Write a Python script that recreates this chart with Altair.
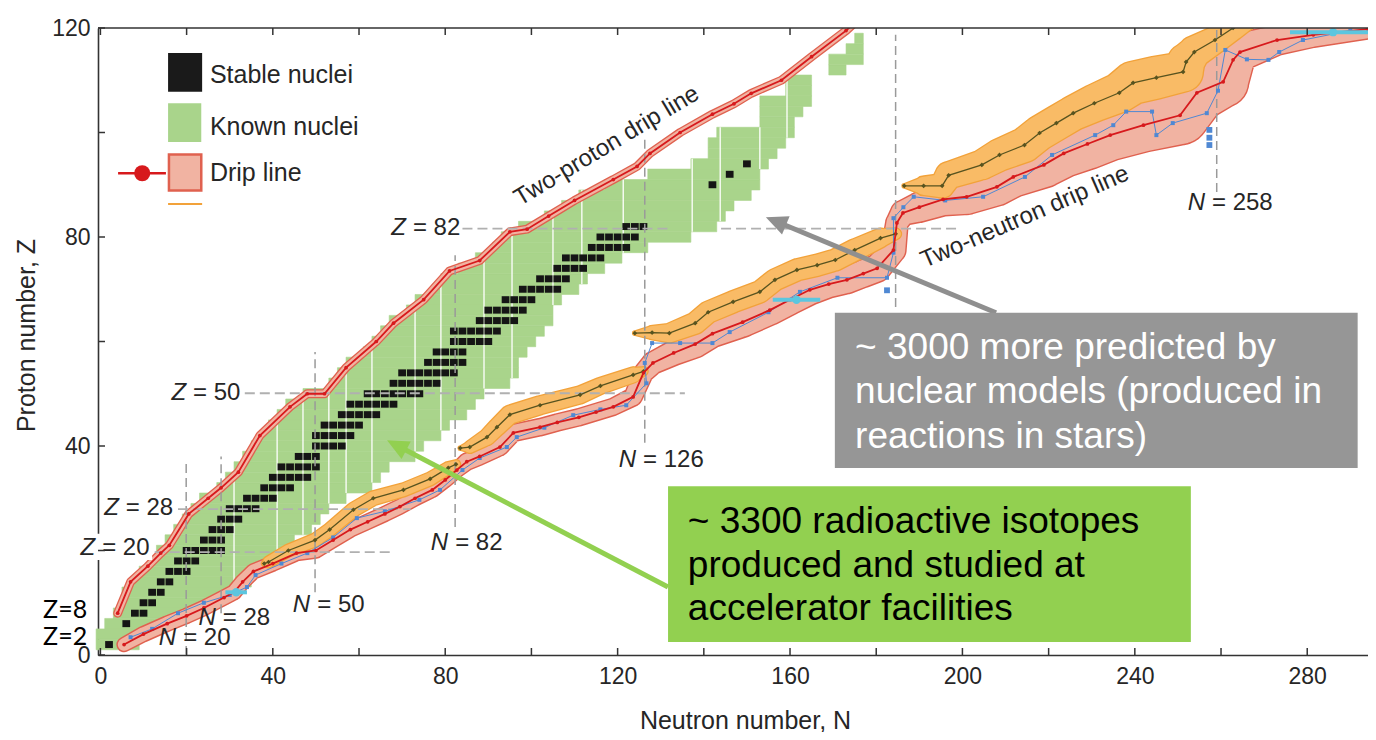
import math
import altair as alt
import pandas as pd

# ---------------- plot geometry ----------------
W, H = 1270, 627
XDOM = [-0.56, 294.1]
YDOM = [0, 120]
KX = W / (XDOM[1] - XDOM[0])
KY = H / (YDOM[1] - YDOM[0])

FONT = "Liberation Sans"
INK = "#262626"
GREEN = "#a9d48b"
PINK = "#f1b3a2"
PINK_EDGE = "#e0614f"
ORANGE = "#f9bb66"
ORANGE_EDGE = "#f2a23a"
RED = "#d7191c"
OLIVE = "#57531f"
BLUE = "#4f88d3"
CYAN = "#5cc6df"
GUIDE = "#9a9a9a"

# ---------------- data ----------------
x_ticks = [0, 20, 40, 60, 80, 100, 120, 140, 160, 180, 200, 220, 240, 260, 280]
x_labels = [0, 40, 80, 120, 160, 200, 240, 280]
y_ticks = [0, 20, 40, 60, 80, 100, 120]
y_labels = [0, 40, 80, 120]

# known nuclei, one row per even Z
known_z = [2, 4, 6, 8, 10, 12, 14, 16, 18, 20, 22, 24, 26, 28, 30, 32, 34, 36, 38, 40,
           42, 44, 46, 48, 50, 52, 54, 56, 58, 60, 62, 64, 66, 68, 70, 72, 74, 76, 78, 80,
           82, 84, 86, 88, 90, 92, 94, 96, 98, 100, 102, 104, 106, 108, 110, 112, 114, 116, 118]
known_nmin = [0, 0, 2, 4, 6, 6, 8, 10, 12, 14, 16, 18, 20, 22, 24, 28, 30, 32, 34, 36,
              38, 40, 42, 44, 48, 54, 56, 58, 62, 64, 66, 68, 72, 74, 78, 80, 84, 88, 92, 94,
              98, 104, 108, 112, 118, 128, 138, 142, 142, 144, 154, 154, 154, 160, 160, 170, 170, 174, 176]
known_nmax = [8, 10, 16, 20, 26, 30, 34, 36, 40, 42, 44, 48, 50, 52, 56, 62, 64, 66, 72, 74,
              78, 80, 84, 86, 88, 94, 96, 96, 98, 100, 102, 104, 104, 106, 110, 112, 116, 120, 126, 136,
              142, 144, 146, 150, 152, 152, 154, 156, 158, 160, 160, 162, 164, 164, 164, 172, 176, 176, 176]
separator_n = [31, 41, 47, 53, 57, 63, 73, 79, 89, 95.5, 105, 111.7, 121.3, 137.3, 143.8, 153, 159.3]

# stable nuclei, runs of even N per even Z
stable_z = [2, 6, 8, 10, 12, 14, 16, 18, 20, 22, 24, 26, 28, 30, 32, 34, 36, 38, 40, 42,
            44, 46, 48, 50, 52, 54, 56, 58, 60, 62, 64, 66, 68, 70, 72, 74, 76, 78, 80, 82, 90, 92, 94]
stable_nmin = [2, 6, 8, 10, 12, 14, 16, 18, 20, 24, 26, 28, 30, 34, 38, 40, 42, 46, 50, 50,
               52, 56, 58, 62, 68, 70, 76, 78, 82, 82, 88, 90, 94, 98, 102, 106, 108, 114, 116, 122, 142, 146, 150]
stable_nmax = [2, 6, 10, 12, 14, 16, 20, 22, 28, 28, 30, 32, 36, 40, 44, 48, 50, 50, 56, 58,
               60, 64, 68, 74, 78, 82, 84, 84, 90, 92, 96, 98, 100, 106, 108, 112, 116, 122, 124, 126, 142, 146, 150]

# two-proton drip line
pdrip_n = [4, 7, 11, 14, 16, 20.5, 25, 28, 32, 37, 44, 48, 52, 57, 64, 68, 75, 81, 88, 95, 99, 104,
           110, 119, 124.5, 127.5, 134.5, 142, 147, 151, 158, 165, 173, 175]
pdrip_z = [8, 14, 17, 19.5, 21, 27, 30, 32, 35, 42, 47.5, 50, 50, 55, 60, 63.5, 68, 73.5, 75.5, 81, 81.5, 84,
           87, 91, 93.5, 96, 100, 103.5, 105.5, 107.5, 110, 114.5, 119.5, 121]
pdrip_w = 1.2

# two-neutron drip line (red model) and its uncertainty band width (in Z)
ndrip_n = [5.5, 10, 15.5, 20, 24, 28.7, 31, 33, 35.5, 40, 45.5, 50, 54, 58, 62, 66, 69.5, 73, 77, 80,
           82.7, 85, 88, 92.7, 95.8, 102, 106, 111, 115, 119, 123.6, 126, 128.2, 133, 138, 142, 149, 155.3, 160, 164.6,
           169, 173.2, 177, 180.2, 184, 184.8, 186.2, 190, 195.5, 201, 208, 211.8, 218.9, 223.5, 229, 234.3, 242, 250.5, 254.4, 260.5,
           262.8, 264.4, 273, 281.4, 294]
ndrip_z = [2, 4, 6, 7.5, 9, 11, 12, 14, 16, 17.5, 19.5, 20, 22, 24, 25.5, 27, 28.4, 30, 31.6, 33.5,
           35.4, 37, 38, 39.8, 42.5, 43.6, 44.5, 45.5, 46.5, 47.5, 49.4, 54, 55.9, 57.8, 59.5, 61.5, 63.7, 66, 68, 69.9,
           71, 71.8, 73, 74, 77.5, 82.7, 84.6, 85.7, 87.2, 87.7, 89.6, 91.5, 93.8, 96, 97.8, 99.5, 101.4, 103.3, 107.6, 109.7,
           113.9, 115.4, 117.7, 118.7, 119.8]
ndrip_w = [2.4, 2.6, 2.6, 2.6, 2.6, 2.6, 2.6, 2.6, 2.6, 2.6, 2.6, 2.6, 2.6, 2.6, 2.6, 2.6, 2.6, 2.6, 2.6, 2.6,
           2.6, 3, 3, 3, 3, 3, 3, 3, 3, 3, 3.2, 3.5, 4, 4.5, 5, 5, 5.5, 5.5, 5.5, 5.5,
           5, 5, 5, 5, 4.5, 4, 4.5, 5.5, 6, 6.5, 7, 7.5, 8.5, 9, 9.5, 9.5, 10, 11, 11, 9.5,
           8, 7, 5.5, 4.5, 3.5]

# second model (orange band, olive line), four pieces
orange_seg = [1] * 11 + [2] * 10 + [3] * 14 + [4] * 20
orange_n = [38, 39, 43.6, 49.8, 53.2, 58.7, 63.3, 70.3, 76.5, 80.7, 82.5,
            83.5, 85.7, 89.7, 92, 95, 102, 111.3, 116, 123.6, 126,
            124, 128, 132, 138, 141, 146.8, 153, 156.5, 161.6, 166.3, 170.5, 175, 181, 184.5,
            186.5, 191, 195.3, 196.8, 204.5, 208.6, 214.4, 217.9, 221.8, 225.7, 230.6, 236.4, 239.6, 245, 251.2,
            251.9, 253.8, 258.6, 262.8, 268]
orange_z = [17.5, 17.8, 20, 22, 24, 27.8, 30, 31.6, 33.7, 35.8, 36.5,
            39.6, 39.8, 41.7, 43.6, 46, 47.8, 49.8, 51.5, 53.6, 54.3,
            61.6, 61.7, 61.6, 63.5, 65.6, 67.6, 69.5, 71.8, 73.7, 74.6, 75.6, 77.5, 79.8, 80.6,
            89.8, 89.8, 89.8, 91.8, 93.8, 95.7, 97.6, 99.9, 101.8, 103.7, 105.6, 107.6, 109.5, 110.5, 111.6,
            113.5, 115.4, 117.7, 120, 123]
orange_w = [0.8, 2, 2.2, 2.4, 2.4, 2.6, 2.6, 2.4, 2.4, 2.2, 1.5,
            0.6, 2.2, 3, 3.2, 3.4, 3.4, 3.2, 3, 2.8, 1.5,
            0.6, 2.5, 3.5, 4, 4, 4, 4, 4, 4, 4, 4, 4, 3.5, 2,
            0.6, 3.5, 4.5, 5, 5.5, 6, 6.5, 6.5, 6.5, 6.5, 7, 7.5, 8, 8, 7.5,
            7, 6, 5, 4.5, 4]

# third model (blue squares)
blue_n = [7, 12, 18, 24, 30, 34, 36, 42, 48, 54, 59.5, 66, 74, 78.8, 84, 88, 94.3, 96.6, 103, 109.7,
          116, 122, 126.7, 126.3, 128, 134.5, 142, 146, 155, 162.3, 171, 182.5, 184, 184, 186.3, 188.7, 196, 204.8,
          214.5, 220.8, 230.8, 235, 238, 244, 245, 248.8, 256.7, 259.3, 261, 266, 271, 273.5, 279, 290]
blue_z = [3.4, 5, 8, 10, 11.5, 13, 15.3, 17.5, 19.5, 22.5, 26.2, 27.5, 29.7, 31.6, 35.4, 37.7, 39.8, 41.7, 43.5, 45.9,
          47, 47.8, 52, 55.9, 59.7, 59.7, 59.7, 61.8, 65.6, 69.5, 72.2, 72.2, 77, 83.6, 85.7, 87.7, 87, 87.7,
          91.5, 95.7, 99.5, 101.4, 104, 104, 99.5, 101.8, 103.7, 108, 115.8, 114, 113.9, 115.4, 117.7, 119.5]
blue_extra_n = [257.3, 257.3, 257.3, 182.5]
blue_extra_z = [97.6, 99.0, 100.5, 69.8]

# measured limits (cyan error bars)
cyan_n1 = [29, 156, 276]
cyan_n2 = [34, 167, 296]
cyan_z = [12, 68, 119.2]

# magic-number guides
vguide_n = [19.9, 28, 49.8, 82.3, 126.3, 184.5, 259]
vguide_z1 = [0, 8, 12, 24.5, 40.6, 66.6, 88.6]
vguide_z2 = [37.3, 38, 58, 76.5, 99.5, 118.7, 119.6]
hguide_z = [19.7, 27.9, 50.1, 81.6, 81.6]
hguide_n1 = [12.6, 18, 33.5, 84, 144]
hguide_n2 = [67.6, 72, 135.6, 132, 199.5]

# guide labels: symbol, rest, position of the "=" sign
glabel_sym = ["Z", "Z", "Z", "Z", "N", "N", "N", "N", "N", "N"]
glabel_rest = ["= 82", "= 50", "= 28", "= 20", "= 20", "= 28", "= 50", "= 82", "= 126", "= 258"]
glabel_n = [72.5, 21.5, 5.9, 0.4, 19.2, 28.4, 50.3, 82.3, 125.9, 257.9]
glabel_z = [81.7, 50.1, 28.1, 20.5, 3.3, 7.1, 9.6, 21.4, 37.3, 86.5]

# ---------------- tables ----------------
known = pd.DataFrame({"z": known_z, "nmin": known_nmin, "nmax": known_nmax})
known["n1"] = known["nmin"] - 1
known["n2"] = known["nmax"] + 1
known["z1"] = known["z"] - 1
known["z2"] = known["z"] + 1

sep_rows = []
for sn in separator_n:
    rows = known[(known["n1"] < sn) & (known["n2"] > sn)]
    if len(rows):
        sep_rows.append({"n": sn, "z1": rows["z1"].min(), "z2": rows["z2"].max()})
seps = pd.DataFrame(sep_rows)

st_rows = []
for z, a, b in zip(stable_z, stable_nmin, stable_nmax):
    for n in range(a, b + 1, 2):
        st_rows.append({"n": n, "z": z})
stable = pd.DataFrame(st_rows)

pdrip = pd.DataFrame({"n": pdrip_n, "z": pdrip_z})
pdrip["i"] = range(len(pdrip))
pdrip["w"] = pdrip_w
pdrip["we"] = pdrip_w + 0.5
pdrip["seg"] = 0

ndrip = pd.DataFrame({"n": ndrip_n, "z": ndrip_z, "w": ndrip_w})
ndrip["i"] = range(len(ndrip))
ndrip["we"] = ndrip["w"] + 0.55
ndrip["seg"] = 0

orng = pd.DataFrame({"n": orange_n, "z": orange_z, "w": orange_w, "seg": orange_seg})
orng["i"] = range(len(orng))
orng["we"] = orng["w"] + 0.5

blue = pd.DataFrame({"n": blue_n, "z": blue_z})
blue["i"] = range(len(blue))
blue_x = pd.DataFrame({"n": blue_extra_n, "z": blue_extra_z})

cyan = pd.DataFrame({"n1": cyan_n1, "n2": cyan_n2, "z": cyan_z})
cyan["n"] = (cyan["n1"] + cyan["n2"]) / 2

vg = pd.DataFrame({"n": vguide_n, "z1": vguide_z1, "z2": vguide_z2})
hg = pd.DataFrame({"z": hguide_z, "n1": hguide_n1, "n2": hguide_n2})
gl = pd.DataFrame({"sym": glabel_sym, "rest": glabel_rest, "n": glabel_n, "z": glabel_z})

# ---------------- scales / encodings ----------------
xs = alt.Scale(domain=XDOM, nice=False, zero=False)
ys = alt.Scale(domain=YDOM, nice=False, zero=False)
sz = alt.Scale(type="linear", domain=[0, 10], range=[0, 10 * KY], zero=True)

xaxis = alt.Axis(values=x_labels, ticks=False, grid=False, domainColor="#333333", domainWidth=1.6,
                 labelFont=FONT, labelFontSize=23, labelColor=INK, labelPadding=10, labelFlush=False,
                 title="Neutron number, N", titleFont=FONT, titleFontSize=25, titleFontWeight="normal",
                 titleColor=INK, titleX=647, titleY=73, titleBaseline="alphabetic", titleAlign="center")
yaxis = alt.Axis(values=y_labels, ticks=False, grid=False, domainColor="#333333", domainWidth=1.6,
                 labelFont=FONT, labelFontSize=23, labelColor=INK, labelPadding=8, labelFlush=False,
                 title="Proton number, Z", titleFont=FONT, titleFontSize=25, titleFontWeight="normal",
                 titleColor=INK, titleAngle=270, titleX=-72, titleY=307, titleBaseline="middle",
                 titleAlign="center")


def X(f):
    return alt.X(f"{f}:Q", scale=xs, axis=xaxis)


def Y(f):
    return alt.Y(f"{f}:Q", scale=ys, axis=yaxis)


def C(df):
    return alt.Chart(df)


one = pd.DataFrame({"a": [0]})
layers = []

# known nuclei
layers.append(C(known).mark_rect(color=GREEN, stroke=GREEN, strokeWidth=0.6).encode(
    x=X("n1"), x2="n2:Q", y=Y("z1"), y2="z2:Q"))
layers.append(C(seps).mark_rule(color="white", strokeWidth=1.3).encode(x=X("n"), y=Y("z1"), y2="z2:Q"))

# stable nuclei
layers.append(C(stable).mark_point(shape="M-1,-0.9H1V0.9H-1Z", filled=True, size=60,
                                   color="#151515", opacity=1).encode(x=X("n"), y=Y("z")))

# uncertainty bands (trails)
for df, edge, fill in [(ndrip, PINK_EDGE, PINK), (orng, ORANGE_EDGE, ORANGE), (pdrip, PINK_EDGE, PINK)]:
    layers.append(C(df).mark_trail(color=edge, fill=edge, clip=True, opacity=1).encode(
        x=X("n"), y=Y("z"), size=alt.Size("we:Q", scale=sz, legend=None), detail="seg:N", order="i:Q"))
    layers.append(C(df).mark_trail(color=fill, fill=fill, clip=True, opacity=1).encode(
        x=X("n"), y=Y("z"), size=alt.Size("w:Q", scale=sz, legend=None), detail="seg:N", order="i:Q"))

# magic number guides
layers.append(C(vg).mark_rule(color=GUIDE, strokeWidth=1.5, strokeDash=[9, 5]).encode(
    x=X("n"), y=Y("z1"), y2="z2:Q"))
layers.append(C(hg).mark_rule(color="#b0b0b0", strokeWidth=1.8, strokeDash=[10, 5]).encode(
    x=X("n1"), x2="n2:Q", y=Y("z")))

# model lines
layers.append(C(blue).mark_line(color=BLUE, strokeWidth=1, clip=True).encode(x=X("n"), y=Y("z"), order="i:Q"))
layers.append(C(blue).mark_point(shape="square", filled=True, size=16, color=BLUE, opacity=1, clip=True).encode(
    x=X("n"), y=Y("z")))
layers.append(C(blue_x).mark_point(shape="square", filled=True, size=34, color=BLUE, opacity=1).encode(
    x=X("n"), y=Y("z")))
layers.append(C(orng).mark_line(color=OLIVE, strokeWidth=1.3, clip=True).encode(
    x=X("n"), y=Y("z"), detail="seg:N", order="i:Q"))
layers.append(C(orng).mark_point(shape="diamond", filled=True, size=22, color=OLIVE, opacity=1, clip=True).encode(
    x=X("n"), y=Y("z")))
for df in (ndrip, pdrip):
    layers.append(C(df).mark_line(color=RED, strokeWidth=1.8, clip=True).encode(x=X("n"), y=Y("z"), order="i:Q"))
    layers.append(C(df).mark_point(shape="circle", filled=True, size=14, color=RED, opacity=1, clip=True).encode(
        x=X("n"), y=Y("z")))

# cyan measured limits
layers.append(C(cyan).mark_rule(color=CYAN, strokeWidth=4, clip=True).encode(x=X("n1"), x2="n2:Q", y=Y("z")))
layers.append(C(cyan).mark_point(shape="circle", filled=True, size=70, color=CYAN, opacity=1, clip=True).encode(
    x=X("n"), y=Y("z")))

# white patch behind the Z = 20 label
layers.append(C(pd.DataFrame({"n1": [-4.7], "n2": [12], "z1": [18.2], "z2": [23.2]})).mark_rect(color="white").encode(
    x=X("n1"), x2="n2:Q", y=Y("z1"), y2="z2:Q"))

# guide labels
layers.append(C(gl).mark_text(font=FONT, fontSize=24, color=INK, align="left", baseline="middle").encode(
    x=X("n"), y=Y("z"), text="rest:N"))
layers.append(C(gl).mark_text(font=FONT, fontSize=24, color=INK, align="right", baseline="middle",
                              fontStyle="italic", dx=-7).encode(x=X("n"), y=Y("z"), text="sym:N"))

# drip line titles
layers.append(C(pd.DataFrame({"n": [117.5], "z": [97.4], "t": ["Two-proton drip line"]})).mark_text(
    font=FONT, fontSize=24, color=INK, angle=329, align="center", baseline="middle").encode(
    x=X("n"), y=Y("z"), text="t:N"))
layers.append(C(pd.DataFrame({"n": [214.5], "z": [83.8], "t": ["Two-neutron drip line"]})).mark_text(
    font=FONT, fontSize=24, color=INK, angle=336.6, align="center", baseline="middle").encode(
    x=X("n"), y=Y("z"), text="t:N"))

# axis ticks (inward) and top frame
layers.append(C(pd.DataFrame({"n": x_ticks})).mark_rule(color="#333333", strokeWidth=1.5).encode(
    x=X("n"), y=alt.value(H), y2=alt.value(H - 7)))
layers.append(C(pd.DataFrame({"n": x_ticks})).mark_rule(color="#333333", strokeWidth=1.5).encode(
    x=X("n"), y=alt.value(0), y2=alt.value(7)))
layers.append(C(pd.DataFrame({"z": y_ticks})).mark_rule(color="#333333", strokeWidth=1.5).encode(
    y=Y("z"), x=alt.value(0), x2=alt.value(7)))
layers.append(C(one).mark_rule(color="#333333", strokeWidth=1.6).encode(
    x=alt.value(0), x2=alt.value(W), y=alt.value(0)))

# legend
layers.append(C(pd.DataFrame({"n1": [15.7], "n2": [23.6], "z1": [107.8], "z2": [115.2]})).mark_rect(
    color="#1a1a1a").encode(x=X("n1"), x2="n2:Q", y=Y("z1"), y2="z2:Q"))
layers.append(C(pd.DataFrame({"n1": [15.7], "n2": [23.4], "z1": [98.2], "z2": [105.6]})).mark_rect(
    color=GREEN).encode(x=X("n1"), x2="n2:Q", y=Y("z1"), y2="z2:Q"))
layers.append(C(pd.DataFrame({"n1": [15.9], "n2": [23.4], "z1": [88.9], "z2": [95.8]})).mark_rect(
    color=PINK, stroke=PINK_EDGE, strokeWidth=2.5).encode(x=X("n1"), x2="n2:Q", y=Y("z1"), y2="z2:Q"))
layers.append(C(pd.DataFrame({"n1": [4.1], "n2": [15.2], "z": [92.2]})).mark_rule(
    color=RED, strokeWidth=2.5).encode(x=X("n1"), x2="n2:Q", y=Y("z")))
layers.append(C(pd.DataFrame({"n": [9.7], "z": [92.2]})).mark_point(
    shape="circle", filled=True, size=260, color=RED, opacity=1).encode(x=X("n"), y=Y("z")))
layers.append(C(pd.DataFrame({"n1": [15.7], "n2": [23.6], "z": [86.3]})).mark_rule(
    color=ORANGE_EDGE, strokeWidth=2).encode(x=X("n1"), x2="n2:Q", y=Y("z")))
layers.append(C(pd.DataFrame({"n": [25.4, 25.4, 25.4], "z": [111, 101, 92.2],
                              "t": ["Stable nuclei", "Known nuclei", "Drip line"]})).mark_text(
    font=FONT, fontSize=25, color=INK, align="left", baseline="middle").encode(x=X("n"), y=Y("z"), text="t:N"))

# Z=8 / Z=2 side labels
layers.append(C(pd.DataFrame({"n": [-13.3, -13.3], "z": [8.6, 3.4], "t": ["Z=8", "Z=2"]})).mark_text(
    font="Lato", fontSize=25, color="black", align="left", baseline="middle").encode(
    x=X("n"), y=Y("z"), text="t:N"))


# arrows
def arrow(tail, tip, color):
    dxp = (tip[0] - tail[0]) * KX
    dyp = -(tip[1] - tail[1]) * KY
    L = math.hypot(dxp, dyp)
    ux, uy = dxp / L, dyp / L
    back = 14
    end = (tip[0] - ux * back / KX, tip[1] + uy * back / KY)
    ang = math.degrees(math.atan2(ux, -uy)) % 360
    line = C(pd.DataFrame({"n1": [tail[0]], "z1": [tail[1]], "n2": [end[0]], "z2": [end[1]]})).mark_rule(
        color=color, strokeWidth=5).encode(x=X("n1"), y=Y("z1"), x2="n2:Q", y2="z2:Q")
    head = C(pd.DataFrame({"n": [tip[0]], "z": [tip[1]]})).mark_point(
        shape="M0,0L1.1,2.4L-1.1,2.4Z", filled=True, size=324, color=color, opacity=1, angle=ang).encode(
        x=X("n"), y=Y("z"))
    return [line, head]


layers += arrow((207.8, 65.5), (154.4, 83.8), "#8f8f8f")
layers += arrow((131.7, 13.0), (66.5, 41.1), "#92d050")

# annotation boxes
layers.append(C(pd.DataFrame({"n1": [170.4], "n2": [291.7], "z1": [35.8], "z2": [65.5]})).mark_rect(
    color="#969696").encode(x=X("n1"), x2="n2:Q", y=Y("z1"), y2="z2:Q"))
layers.append(C(pd.DataFrame({"n1": [131.7], "n2": [253.0], "z1": [2.5], "z2": [32.3]})).mark_rect(
    color="#92d050").encode(x=X("n1"), x2="n2:Q", y=Y("z1"), y2="z2:Q"))
layers.append(C(pd.DataFrame({"n": [175.1] * 3, "z": [56.7, 48.2, 39.6],
                              "t": ["~ 3000 more predicted by", "nuclear models (produced in",
                                    "reactions in stars)"]})).mark_text(
    font=FONT, fontSize=37, color="white", align="left", baseline="alphabetic").encode(
    x=X("n"), y=Y("z"), text="t:N"))
layers.append(C(pd.DataFrame({"n": [136.3] * 3, "z": [23.3, 14.9, 6.7],
                              "t": ["~ 3300 radioactive isotopes", "produced and studied at",
                                    "accelerator facilities"]})).mark_text(
    font=FONT, fontSize=37, color="black", align="left", baseline="alphabetic").encode(
    x=X("n"), y=Y("z"), text="t:N"))

chart = alt.layer(*layers).properties(
    width=W, height=H,
    padding={"left": 90, "top": 20, "right": 0, "bottom": 77},
    autosize=alt.AutoSizeParams(type="none"),
).configure_view(stroke=None)

chart.save("out.html", embed_options={"renderer": "svg", "actions": False})
